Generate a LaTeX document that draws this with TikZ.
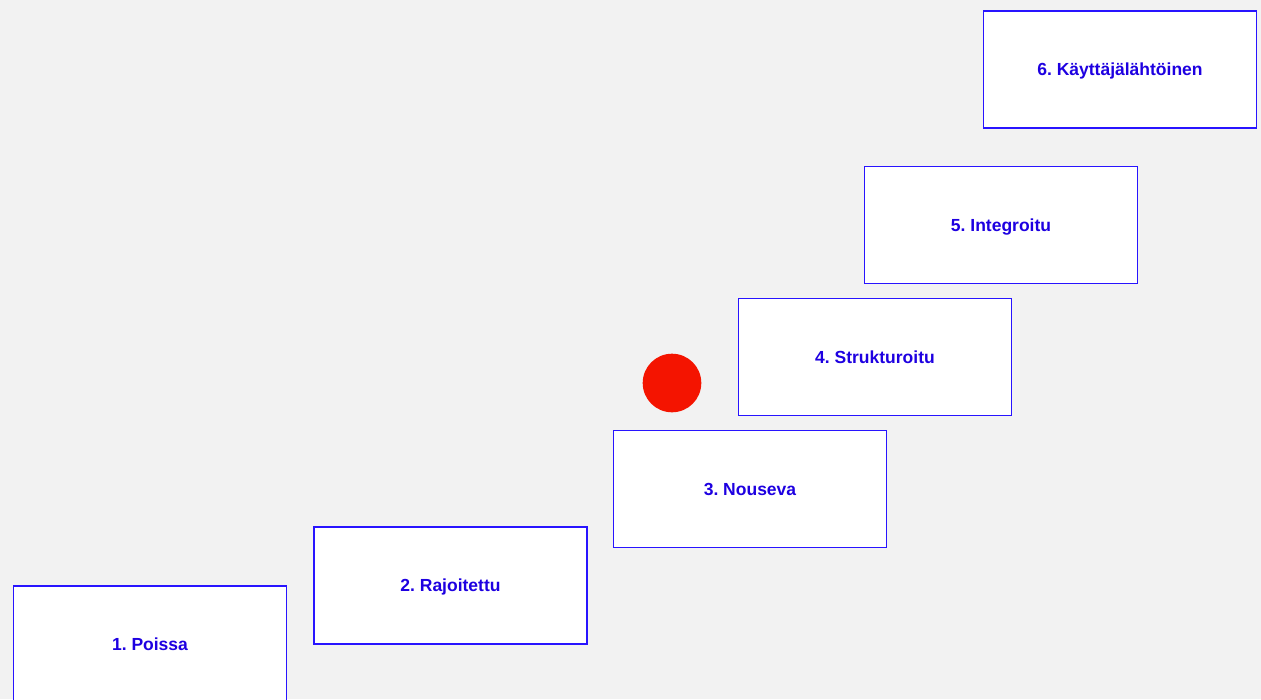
\documentclass[tikz,border=0pt]{standalone}
\usepackage{fontspec}
\setmainfont{Liberation Sans}
\definecolor{bg}{RGB}{242,242,242}
\definecolor{edge}{RGB}{40,20,255}
\definecolor{txt}{RGB}{30,0,225}
\definecolor{dot}{RGB}{244,20,0}
\begin{document}
\begin{tikzpicture}[x=1pt,y=-1pt,
  stage/.style={draw=edge,fill=white,line width=1.4pt,minimum width=273pt,minimum height=117pt,inner sep=0pt,text height=12.5pt,text depth=0pt,text=txt,font=\fontsize{17.5}{20}\selectfont\bfseries\frenchspacing}]
\fill[bg] (0,0) rectangle (1261,699);
\useasboundingbox (0,0) rectangle (1261,699);
\clip (0,0) rectangle (1261,699);
\node[stage] (s1) at (150,644.5) {1. Poissa};
\node[stage] (s2) at (450.5,585.5) {2. Rajoitettu};
\node[stage] (s3) at (750,489) {3. Nouseva};
\node[stage] (s4) at (875,357) {4. Strukturoitu};
\node[stage] (s5) at (1001,225) {5. Integroitu};
\node[stage] (s6) at (1120,69.5) {6. Käyttäjälähtöinen};
\fill[dot] (672,383) circle (29.3) node (marker) {};
\end{tikzpicture}
\end{document}
